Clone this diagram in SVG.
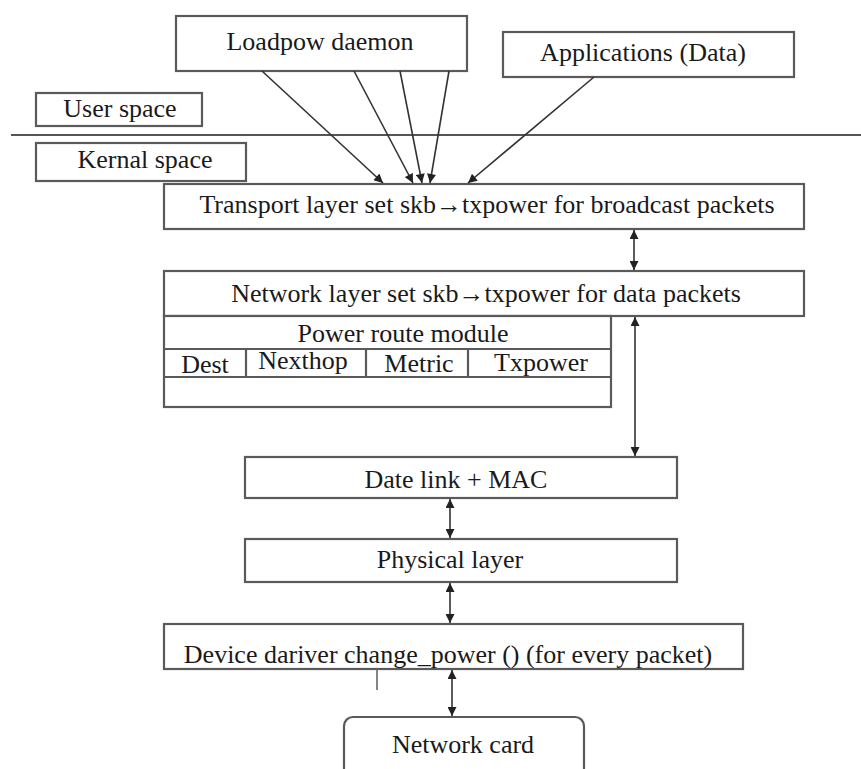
<svg xmlns="http://www.w3.org/2000/svg" width="861" height="769" viewBox="0 0 861 769">
<style>
.box{fill:#fff;stroke:#5a5a5a;stroke-width:2.2}
.t{font-family:'Liberation Serif','Times New Roman',serif;font-size:26px;fill:#1a1a1a;text-anchor:middle}
.c{stroke:#333;stroke-width:1.6;fill:none}
</style>
<defs>
<marker id="ah" viewBox="0 0 10 10" refX="10" refY="5" markerWidth="10" markerHeight="9" markerUnits="userSpaceOnUse" orient="auto-start-reverse">
<path d="M0,0 L10,5 L0,10 Z" fill="#222"/>
</marker>
</defs>
<rect width="861" height="769" fill="#fff"/>
<line x1="11" y1="135" x2="861" y2="135" stroke="#555" stroke-width="2"/>
<g id="loadpow"><rect class="box" x="176" y="16" width="291" height="55"/><text class="t" x="320" y="50">Loadpow daemon</text></g>
<g id="apps"><rect class="box" x="503" y="32" width="291" height="45"/><text class="t" x="643" y="61">Applications (Data)</text></g>
<g id="user"><rect class="box" x="36" y="93" width="166" height="33"/><text class="t" x="120" y="117">User space</text></g>
<g id="kernal"><rect class="box" x="36" y="143" width="210" height="38"/><text class="t" x="145" y="168">Kernal space</text></g>
<g id="transport"><rect class="box" x="164" y="184" width="640" height="45"/><text class="t" x="487" y="213">Transport layer set skb→txpower for broadcast packets</text></g>
<g id="network"><rect class="box" x="164" y="271" width="640" height="45"/><text class="t" x="486" y="302">Network layer set skb→txpower for data packets</text></g>
<g id="powerroute">
<rect class="box" x="164" y="316" width="447" height="91"/>
<line class="box" x1="164" y1="349" x2="611" y2="349"/>
<line class="box" x1="164" y1="377" x2="611" y2="377"/>
<line class="box" x1="246" y1="349" x2="246" y2="377"/>
<line class="box" x1="366" y1="349" x2="366" y2="377"/>
<line class="box" x1="468" y1="349" x2="468" y2="377"/>
<text class="t" x="403" y="342">Power route module</text>
<text class="t" x="205" y="373">Dest</text>
<text class="t" x="303" y="369">Nexthop</text>
<text class="t" x="419" y="372">Metric</text>
<text class="t" x="541" y="371">Txpower</text>
</g>
<g id="datalink"><rect class="box" x="245" y="457" width="432" height="41"/><text class="t" x="456" y="488">Date link + MAC</text></g>
<g id="physical"><rect class="box" x="245" y="539" width="432" height="43"/><text class="t" x="450" y="568">Physical layer</text></g>
<g id="driver"><rect class="box" x="164" y="624" width="579" height="45"/><text class="t" x="448" y="663">Device dariver change_power () (for every packet)</text></g>
<g id="netcard"><rect class="box" x="344" y="717" width="240" height="62" rx="9"/><text class="t" x="463" y="753">Network card</text></g>
<g id="connectors">
<line class="c" x1="262" y1="71" x2="383" y2="183" marker-end="url(#ah)"/>
<line class="c" x1="354" y1="71" x2="413" y2="183" marker-end="url(#ah)"/>
<line class="c" x1="400" y1="71" x2="422" y2="183" marker-end="url(#ah)"/>
<line class="c" x1="449" y1="71" x2="430" y2="183" marker-end="url(#ah)"/>
<line class="c" x1="594" y1="77" x2="468" y2="183" marker-end="url(#ah)"/>
<line class="c" x1="634" y1="230" x2="634" y2="270" marker-start="url(#ah)" marker-end="url(#ah)"/>
<line class="c" x1="635" y1="317" x2="635" y2="456" marker-start="url(#ah)" marker-end="url(#ah)"/>
<line class="c" x1="450" y1="499" x2="450" y2="538" marker-start="url(#ah)" marker-end="url(#ah)"/>
<line class="c" x1="450" y1="583" x2="450" y2="623" marker-start="url(#ah)" marker-end="url(#ah)"/>
<line class="c" x1="452" y1="670" x2="452" y2="716" marker-start="url(#ah)" marker-end="url(#ah)"/>
<line x1="377" y1="669" x2="377" y2="690" stroke="#666" stroke-width="1.6"/>
</g>
</svg>
